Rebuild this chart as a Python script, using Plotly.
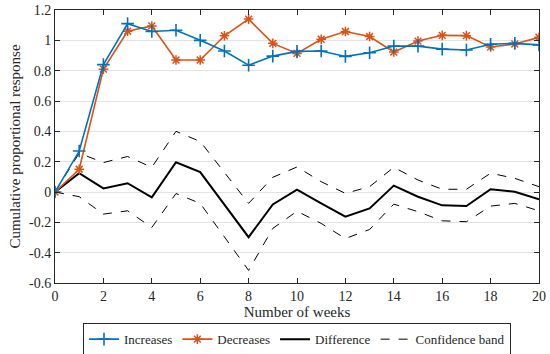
import plotly.graph_objects as go

weeks = list(range(0, 21))
increases = [0, 0.27, 0.84, 1.11, 1.058, 1.066, 1.0, 0.93, 0.836, 0.896, 0.927,
             0.93, 0.894, 0.918, 0.962, 0.962, 0.942, 0.936, 0.974, 0.98, 0.97]
decreases = [0, 0.15, 0.81, 1.06, 1.095, 0.87, 0.87, 1.03, 1.14, 0.98, 0.914,
             1.007, 1.058, 1.025, 0.923, 0.995, 1.033, 1.031, 0.956, 0.976, 1.02]
difference = [0, 0.124, 0.024, 0.058, -0.035, 0.196, 0.131, -0.085, -0.298, -0.082, 0.015,
              -0.075, -0.163, -0.108, 0.042, -0.031, -0.088, -0.093, 0.018, 0.002, -0.048]
upper_band = [0, 0.256, 0.194, 0.234, 0.163, 0.40, 0.333, 0.13, -0.075, 0.097, 0.165,
              0.068, -0.009, 0.035, 0.163, 0.079, 0.018, 0.018, 0.124, 0.09, 0.035]
lower_band = [0, -0.031, -0.146, -0.124, -0.234, -0.01, -0.075, -0.295, -0.517, -0.24, -0.127,
              -0.207, -0.307, -0.247, -0.08, -0.13, -0.19, -0.196, -0.093, -0.075, -0.124]

x_ticks = list(range(0, 21, 2))
y_ticks = [-0.6, -0.4, -0.2, 0, 0.2, 0.4, 0.6, 0.8, 1, 1.2]
y_tick_labels = ["-0.6", "-0.4", "-0.2", "0", "0.2", "0.4", "0.6", "0.8", "1", "1.2"]

FONT = "Liberation Serif"
BLUE = "#0072BD"
ORANGE = "#D95319"

fig = go.Figure()
fig.add_trace(go.Scatter(x=weeks, y=upper_band, mode="lines", name="Confidence band",
                         line=dict(color="black", width=1, dash="dash"), legendrank=4))
fig.add_trace(go.Scatter(x=weeks, y=lower_band, mode="lines", name="Confidence band",
                         line=dict(color="black", width=1, dash="dash"), showlegend=False))
fig.add_trace(go.Scatter(x=weeks, y=difference, mode="lines", name="Difference",
                         line=dict(color="black", width=2), legendrank=3))
fig.add_trace(go.Scatter(x=weeks, y=decreases, mode="lines+markers", name="Decreases",
                         line=dict(color=ORANGE, width=1.6),
                         marker=dict(symbol="asterisk-open", size=8, color=ORANGE,
                                     line=dict(color=ORANGE, width=1.5)), legendrank=2))
fig.add_trace(go.Scatter(x=weeks, y=increases, mode="lines+markers", name="Increases",
                         line=dict(color=BLUE, width=1.6),
                         marker=dict(symbol="cross-thin-open", size=9, color=BLUE,
                                     line=dict(color=BLUE, width=1.6)), legendrank=1))

fig.update_layout(
    width=550, height=354,
    margin=dict(l=55, r=11, t=10, b=71, autoexpand=False),
    paper_bgcolor="white", plot_bgcolor="white",
    font=dict(family=FONT, size=14, color="#262626"),
    showlegend=True,
    legend=dict(orientation="h", x=0.5, xanchor="center", y=-0.2645, yanchor="bottom",
                bordercolor="#262626", borderwidth=1, bgcolor="white",
                font=dict(family=FONT, size=13, color="#262626"),
                itemwidth=30, tracegroupgap=0, traceorder="normal"),
)
fig.update_xaxes(
    range=[0, 20], tickvals=x_ticks, ticktext=[str(v) for v in x_ticks],
    ticks="inside", ticklen=5, tickcolor="#262626", mirror="ticks",
    showline=True, linecolor="#262626", linewidth=1, showgrid=False, zeroline=False,
    title=dict(text="Number of weeks", font=dict(family=FONT, size=15), standoff=0),
    tickfont=dict(family=FONT, size=14),
)
fig.update_yaxes(
    range=[-0.6, 1.2], tickvals=y_ticks, ticktext=y_tick_labels,
    ticks="inside", ticklen=5, tickcolor="#262626", mirror="ticks",
    showline=True, linecolor="#262626", linewidth=1,
    showgrid=True, gridcolor="#e3e3e3", gridwidth=1, zeroline=False,
    title=dict(text="Cumulative proportional response", font=dict(family=FONT, size=15), standoff=4),
    tickfont=dict(family=FONT, size=14),
)

fig.write_html("out.html", config={"displayModeBar": False},
               post_script="document.body.style.margin='0';document.body.style.overflow='hidden';")
